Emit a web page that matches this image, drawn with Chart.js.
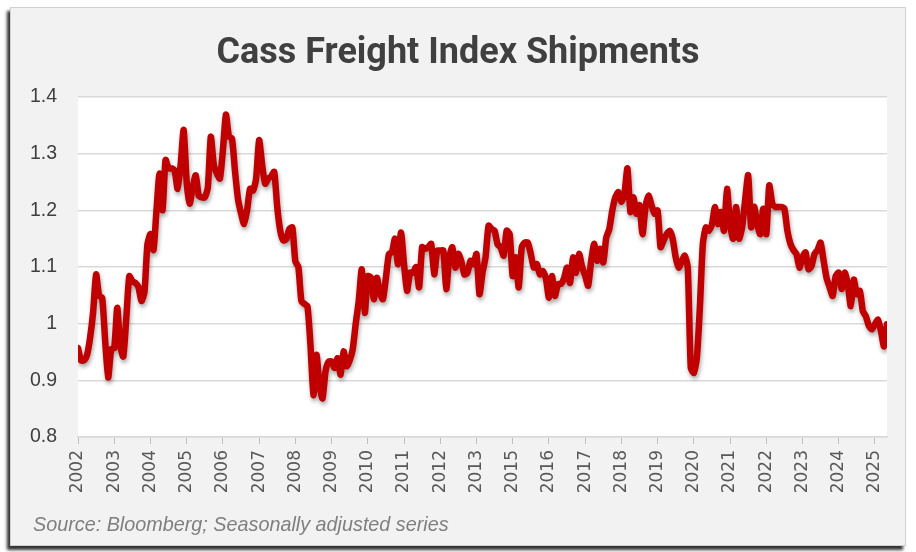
<!DOCTYPE html>
<html>
<head>
<meta charset="utf-8">
<title>Cass Freight Index Shipments</title>
<script src="https://cdn.jsdelivr.net/npm/chart.js@4"></script>
<style>
  body { margin: 0; background: #fff; }
  #card {
    position: absolute; left: 10px; top: 7px; width: 894px; height: 537px;
    background: #f2f2f2; border: 1px solid #d0d0d0;
    box-shadow: -3px 4px 3px #333;
  }
  #chartWrap { position: absolute; left: 0; top: 0; width: 916px; height: 552px; }
  #title {
    position: absolute; left: 0; width: 916px; top: 33px; line-height: 36px; text-align: center;
    font-family: Roboto, sans-serif; font-weight: 700; font-size: 36px; color: #404040;
  }
  #source {
    position: absolute; left: 33px; top: 513px;
    font-family: "Liberation Sans", Arial, sans-serif; font-style: italic; font-size: 19.8px; color: #7f7f7f;
  }
</style>
</head>
<body>
<div id="card"></div>
<div id="chartWrap"><canvas id="freightChart" width="916" height="552"></canvas></div>
<div id="title">Cass Freight Index Shipments</div>
<div id="source">Source: Bloomberg; Seasonally adjusted series</div>
<script>
// Monthly index values, one per month starting 2002
const yearLabels = ['2002', '2003', '2004', '2005', '2006', '2007', '2008', '2009', '2010', '2011', '2012', '2013',
  '2015', '2016', '2017', '2018', '2019', '2020', '2021', '2022', '2023', '2024', '2025'];

const shipments = [
  0.957, 0.935, 0.935, 0.945, 0.975, 1.02, 1.087, 1.049, 1.046, 0.97, 0.905, 0.955,
  0.957, 1.028, 0.96, 0.942, 1.01, 1.084, 1.075, 1.072, 1.065, 1.04, 1.055, 1.14,
  1.158, 1.13, 1.2, 1.265, 1.2, 1.289, 1.274, 1.274, 1.27, 1.238, 1.28, 1.342,
  1.25, 1.212, 1.241, 1.262, 1.226, 1.223, 1.223, 1.24, 1.33, 1.28, 1.265, 1.256,
  1.306, 1.369, 1.33, 1.327, 1.27, 1.22, 1.195, 1.176, 1.2, 1.238, 1.235, 1.256,
  1.324, 1.28, 1.247, 1.256, 1.26, 1.268, 1.206, 1.164, 1.147, 1.149, 1.167, 1.17,
  1.11, 1.1, 1.04, 1.035, 1.031, 0.963, 0.874, 0.945, 0.892, 0.868, 0.916, 0.933,
  0.933, 0.922, 0.939, 0.91, 0.951, 0.925, 0.935, 0.955, 1.0, 1.04, 1.096, 1.019,
  1.084, 1.082, 1.043, 1.081, 1.055, 1.043, 1.081, 1.123, 1.126, 1.15, 1.105, 1.161,
  1.105, 1.058, 1.09, 1.09, 1.1, 1.064, 1.135, 1.132, 1.135, 1.141, 1.087, 1.129,
  1.129, 1.129, 1.061, 1.117, 1.135, 1.099, 1.123, 1.11, 1.087, 1.09, 1.111, 1.105,
  1.123, 1.052, 1.09, 1.117, 1.173, 1.167, 1.164, 1.14, 1.135, 1.12, 1.164, 1.158,
  1.084, 1.117, 1.064, 1.135, 1.143, 1.143, 1.123, 1.099, 1.105, 1.087, 1.093, 1.08,
  1.046, 1.084, 1.049, 1.07, 1.07, 1.08, 1.099, 1.072, 1.117, 1.09, 1.123, 1.1,
  1.085, 1.067, 1.111, 1.141, 1.111, 1.132, 1.108, 1.152, 1.167, 1.2, 1.223, 1.232,
  1.215, 1.229, 1.274, 1.197, 1.223, 1.194, 1.209, 1.158, 1.206, 1.226, 1.209, 1.194,
  1.2, 1.135, 1.147, 1.158, 1.164, 1.15, 1.117, 1.099, 1.11, 1.12, 1.099, 0.922,
  0.913, 0.939, 1.028, 1.141, 1.17, 1.164, 1.175, 1.206, 1.176, 1.197, 1.164, 1.238,
  1.176, 1.15, 1.206, 1.15, 1.17, 1.218, 1.262, 1.17, 1.206, 1.176, 1.158, 1.203,
  1.158, 1.244, 1.212, 1.206, 1.206, 1.206, 1.203, 1.164, 1.141, 1.13, 1.123, 1.099,
  1.117, 1.126, 1.096, 1.102, 1.123, 1.13, 1.143, 1.111, 1.08, 1.064, 1.049, 1.084,
  1.09, 1.061, 1.09, 1.07, 1.031, 1.078, 1.052, 1.058, 1.022, 1.013, 0.996, 0.99,
  0.999, 1.007, 0.987, 0.96, 0.999
];

const yMin = 0.8;
const yMax = 1.4;
const yStep = 0.1;
const monthsPerLabel = 12;

// white plot area on the grey card
const plotBackground = {
  id: 'plotBackground',
  beforeDraw(chart) {
    const { ctx, chartArea } = chart;
    ctx.save();
    ctx.fillStyle = '#ffffff';
    ctx.fillRect(chartArea.left, chartArea.top, chartArea.right - chartArea.left, chartArea.bottom - chartArea.top);
    ctx.restore();
  }
};

// soft drop shadow under the line
const lineShadow = {
  id: 'lineShadow',
  beforeDatasetDraw(chart) {
    const ctx = chart.ctx;
    ctx.save();
    ctx.shadowColor = 'rgba(0, 0, 0, 0.35)';
    ctx.shadowBlur = 4;
    ctx.shadowOffsetX = 1;
    ctx.shadowOffsetY = 3;
  },
  afterDatasetDraw(chart) {
    chart.ctx.restore();
  }
};

document.addEventListener('DOMContentLoaded', function() {
  const ctx = document.getElementById('freightChart').getContext('2d');
  const points = shipments.map((v, i) => ({ x: i, y: v }));

  new Chart(ctx, {
    type: 'line',
    data: {
      datasets: [{
        label: 'Cass Freight Index Shipments',
        data: points,
        borderColor: '#c00000',
        borderWidth: 6.5,
        borderJoinStyle: 'round',
        borderCapStyle: 'round',
        pointRadius: 0,
        tension: 0.2,
        fill: false
      }]
    },
    options: {
      responsive: false,
      animation: false,
      layout: { padding: { left: 12, top: 97, right: 29, bottom: 0 } },
      scales: {
        x: {
          type: 'linear',
          min: 0,
          max: shipments.length - 1,
          afterFit(scale) { scale.height = 115; },
          border: { display: true, color: '#d9d9d9', width: 1.5 },
          grid: { drawOnChartArea: false, drawTicks: true, tickLength: 7, color: '#bfbfbf', lineWidth: 1 },
          ticks: {
            stepSize: monthsPerLabel,
            includeBounds: false,
            autoSkip: false,
            minRotation: 90,
            maxRotation: 90,
            padding: 6,
            color: '#595959',
            font: { family: 'DejaVu Sans', size: 17 },
            callback: function(value) {
              if (value % monthsPerLabel !== 0) return '';
              return yearLabels[value / monthsPerLabel] || '';
            }
          }
        },
        y: {
          min: yMin,
          max: yMax,
          afterFit(scale) { scale.width = 66; },
          border: { display: false },
          grid: { color: '#d9d9d9', lineWidth: 1.5, drawTicks: false },
          ticks: {
            stepSize: yStep,
            padding: 21,
            color: '#404040',
            font: { family: 'Liberation Sans', size: 19.5 },
            callback: function(value) { return String(Number(value.toFixed(1))); }
          }
        }
      },
      plugins: {
        legend: { display: false },
        tooltip: { enabled: false }
      }
    },
    plugins: [plotBackground, lineShadow]
  });
});
</script>
</body>
</html>
